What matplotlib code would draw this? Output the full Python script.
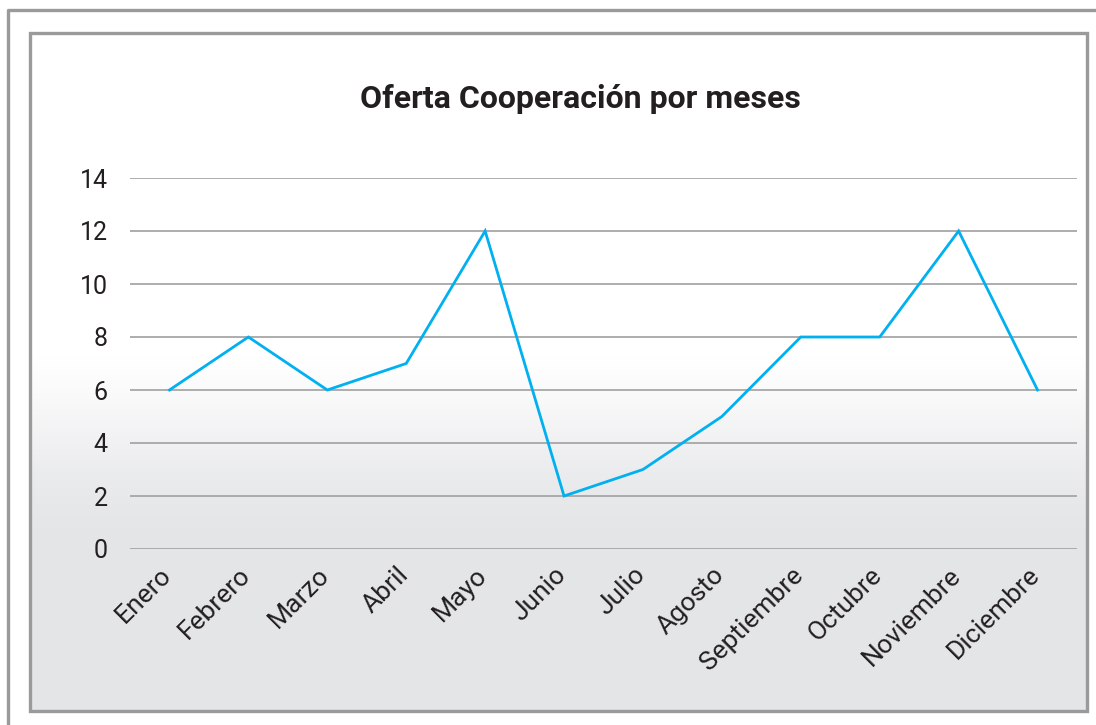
import numpy as np
import matplotlib
matplotlib.use('Agg')
import matplotlib.pyplot as plt
import matplotlib.transforms as mtransforms
from matplotlib.lines import Line2D
from matplotlib.patches import Rectangle

plt.rcParams['font.family'] = ['Roboto', 'DejaVu Sans']

months = ['Enero', 'Febrero', 'Marzo', 'Abril', 'Mayo', 'Junio', 'Julio',
          'Agosto', 'Septiembre', 'Octubre', 'Noviembre', 'Diciembre']
oferta = [6, 8, 6, 7, 12, 2, 3, 5, 8, 8, 12, 6]
yticks = [0, 2, 4, 6, 8, 10, 12, 14]

W, H = 1096, 725
fig = plt.figure(figsize=(W / 100, H / 100), dpi=100)
fig.patch.set_facecolor('white')

def fx(px):
    return px / W

def fy(py):
    return 1 - py / H

# inner frame with gradient background (white on top, light gray at bottom)
x0, y0, x1, y1 = 30, 33, 1087, 711
bg = fig.add_axes([fx(x0), fy(y1), fx(x1 - x0), fy(y0) - fy(y1)], zorder=0)
rows = np.arange(y0, y1)
t = np.clip((rows - 355) / (560 - 355), 0, 1)
t = np.sin(t * np.pi / 2) ** 1.3
top = np.array([1.0, 1.0, 1.0])
bot = np.array([0xE4, 0xE5, 0xE7]) / 255
grad = top[None, :] * (1 - t[:, None]) + bot[None, :] * t[:, None]
bg.imshow(grad[:, None, :], aspect='auto', extent=[0, 1, 0, 1])
bg.set_axis_off()

frame_col = '#9a9a9a'
fig.add_artist(Rectangle((fx(x0), fy(y1)), fx(x1 - x0), fy(y0) - fy(y1),
                         fill=False, edgecolor=frame_col, linewidth=2.4,
                         transform=fig.transFigure, zorder=5))
# outer frame (left and top edges only visible)
fig.add_artist(Line2D([fx(8), fx(8), fx(W + 5)], [fy(H + 5), fy(10), fy(10)],
                      color=frame_col, linewidth=2.4, transform=fig.transFigure,
                      zorder=5))

ax = fig.add_axes([fx(130), fy(549), fx(1077 - 130), fy(178) - fy(549)], zorder=2)
ax.set_facecolor('none')
x = np.arange(len(months))
ax.plot(x, oferta, color='#00B0F0', linewidth=2.0, solid_joinstyle='miter', zorder=3,
        clip_on=False)

ax.set_xlim(-0.5, len(months) - 0.5)
ax.set_ylim(0, 14)
ax.set_yticks(yticks)
ax.set_yticklabels([str(v) for v in yticks], fontsize=18, color='#231f20')
ax.yaxis.grid(True, color='#a0a0a0', linewidth=1.2)
ax.set_axisbelow(True)
ax.set_xticks(x)
ax.set_xticklabels(months, rotation=45, ha='right', rotation_mode='anchor',
                   fontsize=19, color='#231f20')
ax.tick_params(axis='y', length=0, pad=16)
ax.tick_params(axis='x', length=0, pad=10)
shift = mtransforms.ScaledTranslation(-10 / 100, 0, fig.dpi_scale_trans)
for lab in ax.get_xticklabels():
    lab.set_transform(lab.get_transform() + shift)
for s in ax.spines.values():
    s.set_visible(False)

fig.text(fx(580), fy(99), 'Oferta Cooperación por meses', ha='center', va='center',
         fontsize=23, fontweight='bold', color='#231f20')

fig.savefig('out.png', dpi=100)
